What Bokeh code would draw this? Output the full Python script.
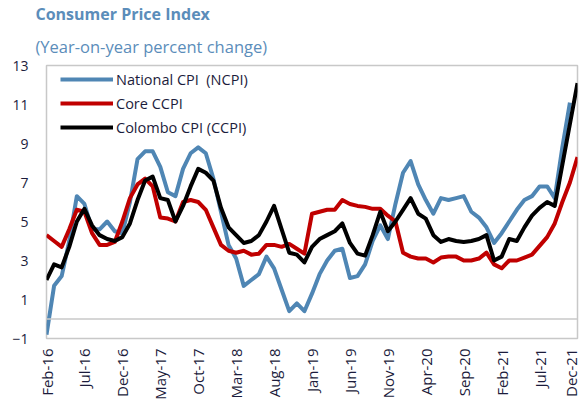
from bokeh.plotting import figure
from bokeh.models import FixedTicker, Span, Legend, LegendItem, Title, Range1d
from bokeh.embed import file_html
from bokeh.resources import INLINE
import math

# ---- data ----
tick_labels = ["Feb-16", "Jul-16", "Dec-16", "May-17", "Oct-17", "Mar-18", "Aug-18",
               "Jan-19", "Jun-19", "Nov-19", "Apr-20", "Sep-20", "Feb-21", "Jul-21", "Dec-21"]

ncpi = [-0.8, 1.7, 2.2, 4.0, 6.3, 5.9, 4.6, 4.6, 5.0, 4.5,
        4.4, 6.0, 8.2, 8.6, 8.6, 7.8, 6.5, 6.3, 7.7, 8.5,
        8.8, 8.5, 7.2, 5.5, 3.8, 3.1, 1.7, 2.0, 2.3, 3.2,
        2.6, 1.5, 0.4, 0.8, 0.4, 1.3, 2.3, 3.0, 3.5, 3.6,
        2.1, 2.2, 2.8, 4.0, 4.8, 4.1, 5.9, 7.5, 8.1, 6.9,
        6.1, 5.4, 6.2, 6.1, 6.2, 6.3, 5.5, 5.2, 4.7, 3.9,
        4.4, 5.0, 5.6, 6.1, 6.3, 6.8, 6.8, 6.2, 8.8, 11.1,
        float("nan")]

core = [4.3, 4.0, 3.7, 4.6, 5.6, 5.5, 4.4, 3.8, 3.8, 3.95,
        5.0, 6.2, 6.9, 7.2, 6.8, 5.2, 5.15, 5.0, 6.0, 6.1,
        6.0, 5.6, 4.7, 3.8, 3.5, 3.4, 3.5, 3.3, 3.35, 3.8,
        3.8, 3.7, 3.85, 3.6, 3.35, 5.4, 5.5, 5.6, 5.6, 6.1,
        5.9, 5.8, 5.75, 5.65, 5.65, 5.3, 5.0, 3.4, 3.2, 3.1,
        3.1, 2.9, 3.15, 3.2, 3.2, 3.0, 3.0, 3.1, 3.4, 2.8,
        2.6, 3.0, 3.0, 3.15, 3.3, 3.75, 4.2, 4.9, 6.0, 7.0,
        8.3]

ccpi = [2.0, 2.8, 2.65, 3.7, 5.0, 5.65, 4.8, 4.3, 4.1, 4.0,
        4.2, 4.9, 6.1, 7.1, 7.3, 6.2, 6.1, 5.0, 5.8, 6.8,
        7.7, 7.5, 7.1, 5.7, 4.7, 4.3, 3.9, 4.0, 4.3, 5.0,
        5.8, 4.6, 3.4, 3.3, 2.9, 3.7, 4.1, 4.3, 4.5, 4.9,
        3.9, 3.35, 3.25, 4.3, 5.5, 4.5, 5.0, 5.6, 6.2, 5.4,
        5.15, 4.3, 3.95, 4.1, 4.0, 3.95, 4.0, 4.1, 4.3, 3.0,
        3.2, 4.1, 4.0, 4.7, 5.3, 5.7, 6.0, 5.8, 7.9, 10.0,
        12.1]

series_names = ["National CPI  (NCPI)", "Core CCPI", "Colombo CPI (CCPI)"]
series_colors = ["#4F86B4", "#C00000", "#000000"]

x = list(range(len(ccpi)))
tick_pos = [i * 5 for i in range(len(tick_labels))]

TEXT = "#1C1C3C"
TITLE_COL = "#5B8DBA"

p = figure(width=580, height=405, output_backend="svg", toolbar_location=None,
           x_range=Range1d(0, len(ccpi) - 1), y_range=Range1d(-1, 13),
           min_border_left=46, min_border_right=3, min_border_top=65, min_border_bottom=67,
           title=None)

p.add_layout(Title(text="(Year-on-year percent change)", align="left", offset=-11,
                   text_font="Open Sans", text_font_size="16.5px", text_font_style="normal",
                   text_color=TITLE_COL, standoff=16), "above")
p.add_layout(Title(text="Consumer Price Index", align="left", offset=-11,
                   text_font="Open Sans", text_font_size="16px", text_font_style="bold",
                   text_color=TITLE_COL, standoff=0), "above")

p.outline_line_color = "#C8C8C8"
p.outline_line_width = 1.5
p.xgrid.visible = False
p.ygrid.visible = False
p.background_fill_color = "white"
p.border_fill_color = "white"

p.yaxis.ticker = FixedTicker(ticks=[-1, 1, 3, 5, 7, 9, 11, 13])
p.xaxis.ticker = FixedTicker(ticks=tick_pos)
p.xaxis.major_label_overrides = {pos: lab for pos, lab in zip(tick_pos, tick_labels)}
p.xaxis.major_label_orientation = math.pi / 2

for ax in (p.xaxis, p.yaxis):
    ax.axis_line_color = None
    ax.major_tick_line_color = None
    ax.minor_tick_line_color = None
    ax.major_label_text_font = "Open Sans"
    ax.major_label_text_color = TEXT
p.yaxis.major_label_text_font_size = "14px"
p.yaxis.major_label_standoff = 12
p.xaxis.major_label_text_font_size = "15px"
p.xaxis.major_label_standoff = 4

p.add_layout(Span(location=0, dimension="width", line_color="#C8C8C8", line_width=1.5))

items = []
for name, vals, col in zip(series_names, [ncpi, core, ccpi], series_colors):
    r = p.line(x, vals, line_color=col, line_width=4, line_join="round")
    items.append(LegendItem(label=name, renderers=[r]))

legend = Legend(items=items, location=(14, 201), orientation="vertical",
                glyph_width=53, glyph_height=20, label_height=20, spacing=4,
                padding=5, margin=0, label_standoff=3,
                label_text_font="Open Sans", label_text_font_size="14.5px",
                label_text_color=TEXT, border_line_color=None,
                background_fill_alpha=0)
p.add_layout(legend)

open("out.html", "w").write(file_html(p, INLINE))
